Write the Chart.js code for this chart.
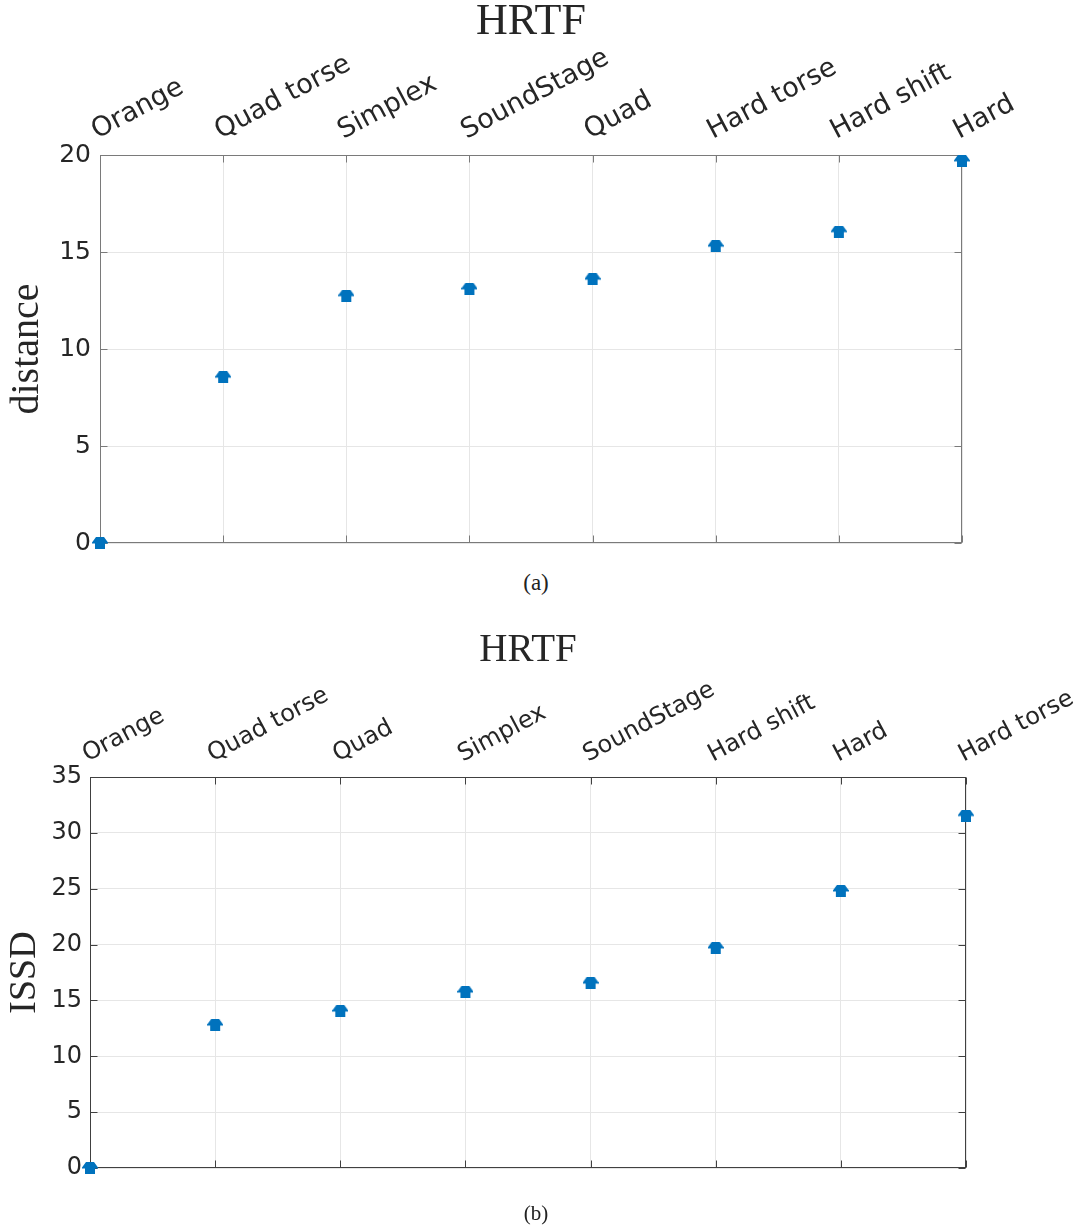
<!DOCTYPE html>
<html lang="en">
<head>
<meta charset="UTF-8">
<title>HRTF</title>
<script src="https://cdn.jsdelivr.net/npm/chart.js"></script>
<style>
  body { margin: 0; background: #fff; }
  .wrap { position: relative; width: 1083px; height: 1229px; }
  canvas { position: absolute; left: 0; }
  #chartA { top: 0; }
  #chartB { top: 620px; }
  .cap { position: absolute; width: 60px; text-align: center; font-family: "Liberation Serif", serif; color: #222; }
</style>
</head>
<body>
<div class="wrap">
  <canvas id="chartA" width="1083" height="570"></canvas>
  <div class="cap" style="left:506px; top:570px; font-size:23px;">(a)</div>
  <canvas id="chartB" width="1083" height="609"></canvas>
  <div class="cap" style="left:506px; top:1201px; font-size:21px;">(b)</div>
</div>
<script>
// (a) distance
const labelsA = ['Orange', 'Quad torse', 'Simplex', 'SoundStage', 'Quad', 'Hard torse', 'Hard shift', 'Hard'];
const distanceA = [0, 8.55, 12.75, 13.1, 13.6, 15.3, 16.05, 19.7];
const ticksA = [0, 5, 10, 15, 20];

// (b) ISSD
const labelsB = ['Orange', 'Quad torse', 'Quad', 'Simplex', 'SoundStage', 'Hard shift', 'Hard', 'Hard torse'];
const issdB = [0, 12.8, 14.05, 15.75, 16.55, 19.7, 24.8, 31.55];
const ticksB = [0, 5, 10, 15, 20, 25, 30, 35];

const blue = '#0072BD';
const textCol = '#262626';
const gridCol = '#e6e6e6';

// little "house" shaped marker
function makeMarker() {
  const c = document.createElement('canvas');
  c.width = 16; c.height = 12;
  const g = c.getContext('2d');
  g.fillStyle = blue;
  g.beginPath();
  g.moveTo(4, 0); g.lineTo(12, 0); g.lineTo(16, 5.5); g.lineTo(16, 6.5);
  g.lineTo(13, 6.5); g.lineTo(13, 12); g.lineTo(3, 12); g.lineTo(3, 6.5);
  g.lineTo(0, 6.5); g.lineTo(0, 5.5);
  g.closePath();
  g.fill();
  return c;
}
const marker = makeMarker();

// box around the plot + inward tick marks, like matlab
const framePlugin = {
  id: 'frame',
  beforeDatasetsDraw(chart, args, opts) {
    const { ctx, chartArea: a, scales } = chart;
    const L = Math.round(a.left) + 0.5, R = Math.round(a.right) - 0.5;
    const T = Math.round(a.top) + 0.5, B = Math.round(a.bottom) - 0.5;
    ctx.save();
    ctx.strokeStyle = opts.color;
    ctx.lineWidth = 1;
    ctx.strokeRect(L, T, R - L, B - T);
    ctx.beginPath();
    scales.y.ticks.forEach(t => {
      const y = Math.round(scales.y.getPixelForValue(t.value)) + 0.5;
      ctx.moveTo(L, y); ctx.lineTo(L + 7, y);
      ctx.moveTo(R, y); ctx.lineTo(R - 7, y);
    });
    scales.x.ticks.forEach((t, i) => {
      const x = Math.round(scales.x.getPixelForValue(i)) + 0.5;
      ctx.moveTo(x, T); ctx.lineTo(x, T + 7);
      ctx.moveTo(x, B); ctx.lineTo(x, B - 7);
    });
    ctx.stroke();
    ctx.restore();
  }
};

function makeChart(id, labels, values, yTicks, yTitle, cfg) {
  return new Chart(document.getElementById(id), {
    type: 'line',
    data: {
      labels: labels,
      datasets: [{
        data: values,
        showLine: false,
        pointStyle: marker,
        pointRadius: 7,
        clip: false
      }]
    },
    options: {
      responsive: false,
      animation: false,
      layout: { padding: { top: 0, left: 0, right: cfg.padRight, bottom: cfg.padBottom } },
      plugins: {
        legend: { display: false },
        tooltip: { enabled: false },
        title: {
          display: true,
          text: 'HRTF',
          fullSize: false,
          color: textCol,
          font: { family: 'Liberation Serif', size: cfg.titleSize, weight: 'normal', lineHeight: 1 },
          padding: { top: cfg.titleTop, bottom: 0 }
        },
        frame: { color: cfg.frameColor }
      },
      scales: {
        x: {
          type: 'category',
          position: 'top',
          offset: false,
          grid: { color: gridCol, drawTicks: false },
          border: { display: false },
          ticks: {
            autoSkip: false, minRotation: 28, maxRotation: 28, padding: 8, labelOffset: cfg.labelOffset,
            color: textCol, font: { family: 'DejaVu Sans', size: cfg.xTickSize }
          },
          afterFit: s => { s.height = cfg.xHeight; s.paddingLeft = 0; s.paddingRight = 0; }
        },
        y: {
          min: yTicks[0],
          max: yTicks[yTicks.length - 1],
          grid: { color: gridCol, drawTicks: false },
          border: { display: false },
          ticks: {
            stepSize: yTicks[1] - yTicks[0], padding: cfg.yPad,
            color: textCol, font: { family: 'DejaVu Sans', size: cfg.yTickSize }
          },
          title: {
            display: true, text: yTitle, color: textCol,
            font: { family: 'Liberation Serif', size: cfg.yTitleSize },
            padding: { top: cfg.yTitlePad, bottom: 0 }
          },
          afterFit: s => { s.width = cfg.yWidth; }
        }
      }
    },
    plugins: [framePlugin]
  });
}

makeChart('chartA', labelsA, distanceA, ticksA, 'distance', {
  padRight: 121, padBottom: 27, titleSize: 44, titleTop: 0, xHeight: 111,
  xTickSize: 27, labelOffset: 9, yTickSize: 25, yWidth: 100, yPad: 9,
  yTitleSize: 40, yTitlePad: 3, frameColor: '#7a7a7a'
});
makeChart('chartB', labelsB, issdB, ticksB, 'ISSD', {
  padRight: 117, padBottom: 61, titleSize: 39, titleTop: 11.5, xHeight: 106.5,
  xTickSize: 24, labelOffset: 8, yTickSize: 24, yWidth: 90, yPad: 8,
  yTitleSize: 38, yTitlePad: 2, frameColor: '#404040'
});
</script>
</body>
</html>
